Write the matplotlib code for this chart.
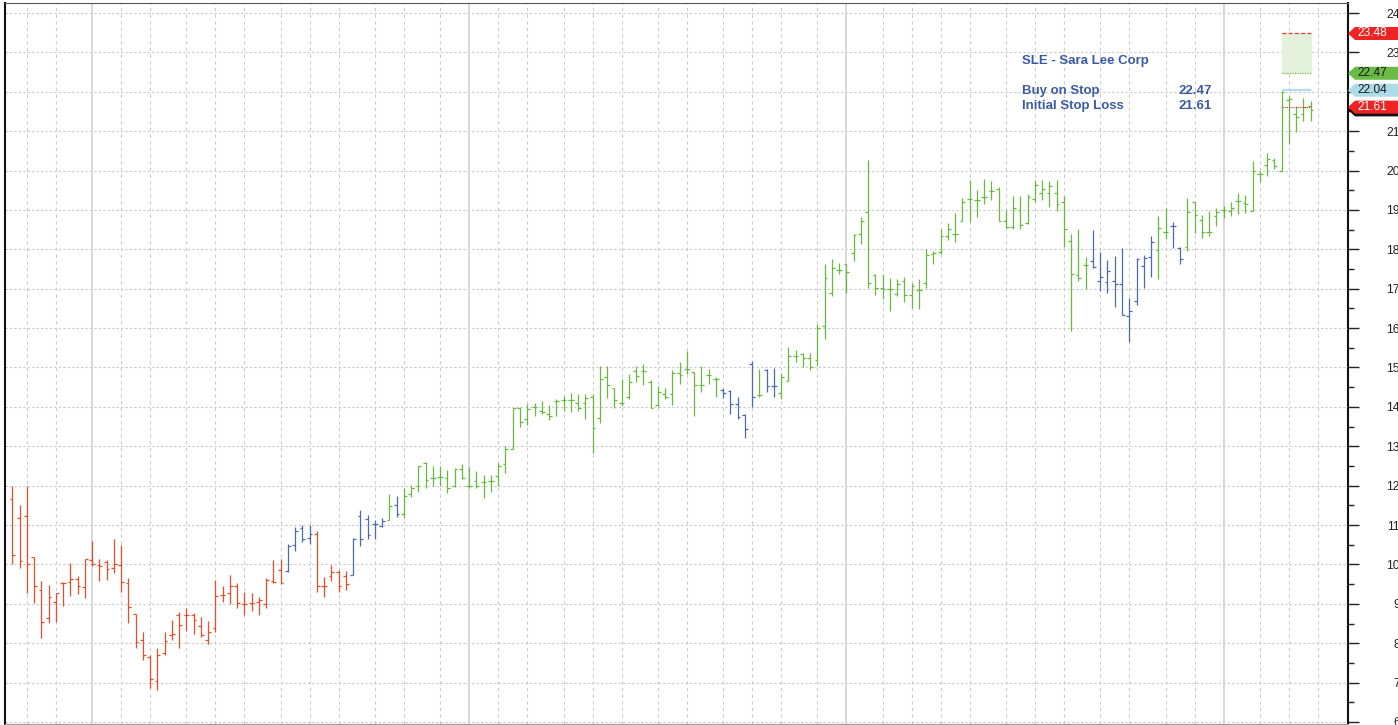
import numpy as np
import matplotlib
matplotlib.use("Agg")
import matplotlib.pyplot as plt
from matplotlib.patches import Polygon

plt.rcParams['font.family'] = ['Liberation Sans', 'DejaVu Sans']

# daily bars for SLE, oldest first (open, high, low, close)
opens = [11.65, 11.18, 11.23, 10.18, 9.36, 8.64, 9.05, 9.52, 9.56, 9.62,
         9.42, 10.10, 9.98, 10.05, 9.90, 9.99, 9.52, 8.74, 8.08, 7.66,
         7.03, 7.76, 8.22, 8.72, 8.72, 8.72, 8.44, 8.08, 8.39, 9.23,
         9.27, 9.44, 9.00, 9.02, 9.04, 9.00, 9.59, 9.86, 9.84, 10.49,
         10.93, 10.68, 10.78, 9.45, 9.71, 9.80, 9.70, 9.73, 11.23, 11.16,
         11.03, 10.97, 11.12, 11.50, 11.27, 11.80, 11.99, 12.58, 12.20, 12.22,
         12.20, 12.00, 12.43, 12.00, 12.12, 12.10, 12.12, 12.25, 12.54, 12.92,
         13.98, 13.69, 14.00, 13.90, 13.81, 14.14, 14.17, 14.17, 14.11, 14.11,
         14.25, 13.71, 14.76, 14.49, 14.11, 14.24, 14.90, 14.90, 14.62, 14.04,
         14.32, 14.32, 14.85, 14.97, 14.89, 14.56, 14.81, 14.72, 14.43, 14.41,
         14.07, 13.79, 15.10, 14.30, 14.94, 14.53, 14.36, 14.66, 15.28, 15.34,
         15.23, 15.19, 16.05, 16.88, 17.48, 17.62, 17.91, 18.40, 18.95, 17.35,
         17.03, 17.00, 16.86, 17.20, 16.83, 16.98, 17.14, 17.87, 17.93, 18.34,
         18.40, 18.72, 19.28, 19.26, 19.33, 19.48, 19.52, 18.72, 18.56, 19.00,
         18.66, 19.28, 19.43, 19.43, 19.43, 19.21, 18.20, 17.36, 17.60, 17.71,
         17.20, 17.18, 17.20, 17.12, 16.30, 16.69, 17.58, 17.81, 17.98, 18.45,
         18.58, 18.03, 18.05, 19.19, 18.75, 18.45, 18.85, 18.99, 18.97, 19.23,
         19.18, 18.98, 19.90, 20.13, 20.28, 19.98, 21.80, 21.43, 21.43, 21.64]
highs = [11.98, 11.50, 12.00, 10.18, 9.57, 9.47, 9.27, 9.55, 10.03, 9.70,
         10.15, 10.60, 10.15, 10.10, 10.65, 10.49, 9.66, 8.75, 8.29, 7.70,
         7.87, 8.29, 8.60, 8.79, 8.89, 8.77, 8.66, 8.56, 9.61, 9.44,
         9.74, 9.52, 9.31, 9.27, 9.17, 9.65, 10.12, 10.13, 10.53, 10.95,
         10.99, 10.99, 10.85, 9.67, 9.98, 9.85, 9.83, 10.68, 11.37, 11.26,
         11.14, 11.19, 11.80, 11.74, 11.93, 12.02, 12.50, 12.60, 12.50, 12.50,
         12.39, 12.46, 12.56, 12.47, 12.36, 12.27, 12.26, 12.58, 13.00, 13.98,
         14.00, 14.08, 14.11, 14.15, 14.04, 14.19, 14.28, 14.36, 14.32, 14.32,
         14.32, 15.04, 15.03, 14.49, 14.72, 14.83, 15.04, 15.08, 14.68, 14.53,
         14.47, 14.93, 15.14, 15.42, 14.89, 15.04, 14.96, 14.75, 14.49, 14.42,
         14.25, 13.83, 15.17, 14.96, 14.96, 14.98, 14.87, 15.53, 15.45, 15.38,
         15.38, 16.10, 17.64, 17.75, 17.66, 17.62, 18.40, 18.83, 20.26, 17.37,
         17.37, 17.28, 17.24, 17.31, 17.15, 17.24, 18.02, 17.97, 18.52, 18.66,
         18.91, 19.31, 19.75, 19.50, 19.79, 19.73, 19.59, 19.00, 19.35, 19.35,
         19.41, 19.76, 19.75, 19.73, 19.76, 19.36, 18.39, 18.52, 17.80, 18.50,
         17.92, 17.73, 17.82, 18.03, 16.76, 17.78, 17.86, 18.33, 18.84, 19.04,
         18.70, 18.05, 19.30, 19.21, 18.87, 18.98, 19.06, 19.10, 19.21, 19.44,
         19.39, 20.24, 20.00, 20.45, 20.32, 22.03, 21.90, 21.64, 21.83, 21.77]
lows = [10.00, 9.92, 9.27, 9.02, 8.12, 8.51, 8.55, 8.94, 9.19, 9.24,
        9.14, 9.97, 9.57, 9.60, 9.79, 9.29, 8.52, 7.87, 7.57, 6.86,
        6.82, 7.71, 8.07, 7.87, 8.30, 8.24, 8.16, 7.97, 8.29, 9.04,
        9.00, 8.89, 8.71, 8.83, 8.71, 8.89, 9.52, 9.50, 9.82, 10.34,
        10.57, 10.53, 9.29, 9.17, 9.57, 9.30, 9.35, 9.73, 10.47, 10.64,
        10.64, 10.95, 11.12, 11.20, 11.19, 11.71, 11.85, 11.95, 12.00, 12.00,
        11.82, 11.97, 12.16, 11.93, 11.93, 11.68, 11.85, 12.00, 12.31, 12.92,
        13.50, 13.54, 13.77, 13.81, 13.66, 13.77, 13.90, 13.86, 13.90, 13.70,
        12.84, 13.60, 14.22, 13.96, 14.03, 14.19, 14.64, 14.55, 13.96, 14.00,
        14.19, 14.04, 14.58, 14.83, 13.77, 14.38, 14.58, 14.25, 14.22, 13.83,
        13.69, 13.22, 14.00, 14.26, 14.38, 14.24, 14.19, 14.66, 15.13, 15.00,
        14.94, 15.04, 15.72, 16.82, 17.37, 16.90, 17.70, 18.14, 17.03, 16.84,
        16.73, 16.44, 16.82, 16.66, 16.52, 16.48, 17.03, 17.62, 17.87, 18.23,
        18.19, 18.72, 18.70, 18.83, 19.14, 19.24, 18.72, 18.55, 18.52, 18.52,
        18.64, 19.19, 19.25, 19.08, 18.97, 18.07, 15.92, 17.19, 17.00, 17.53,
        16.95, 16.88, 16.53, 16.34, 15.65, 16.59, 17.03, 17.31, 17.25, 18.25,
        18.03, 17.63, 17.97, 18.42, 18.28, 18.33, 18.60, 18.80, 18.85, 18.89,
        18.93, 18.98, 19.70, 19.87, 20.04, 19.98, 20.68, 20.98, 21.25, 21.25]
closes = [10.24, 10.08, 10.00, 9.46, 8.54, 9.18, 9.27, 9.52, 9.62, 9.44,
          10.13, 10.00, 9.97, 9.88, 10.00, 9.55, 8.92, 8.03, 7.71, 7.09,
          7.70, 8.05, 8.24, 8.47, 8.72, 8.60, 8.22, 8.29, 9.21, 9.23,
          9.46, 9.02, 9.00, 9.02, 9.10, 9.60, 9.56, 9.52, 10.47, 10.85,
          10.64, 10.78, 9.46, 9.44, 9.82, 9.45, 9.50, 10.65, 10.64, 10.74,
          11.03, 11.10, 11.48, 11.27, 11.74, 11.93, 12.50, 12.14, 12.20, 12.22,
          11.95, 12.43, 12.20, 12.00, 12.00, 12.10, 12.12, 12.50, 12.92, 13.97,
          13.62, 13.94, 14.00, 13.87, 13.77, 14.14, 14.17, 14.17, 13.96, 14.22,
          13.46, 14.70, 14.56, 14.18, 14.11, 14.64, 14.79, 14.90, 13.98, 14.39,
          14.24, 14.85, 14.81, 14.96, 14.56, 14.56, 14.81, 14.72, 14.36, 14.07,
          13.75, 13.43, 14.25, 14.30, 14.53, 14.53, 14.75, 15.28, 15.28, 15.25,
          15.00, 16.01, 17.26, 17.53, 17.48, 17.42, 18.36, 18.72, 17.15, 17.03,
          17.00, 17.00, 17.11, 16.83, 17.07, 16.98, 17.85, 17.91, 18.34, 18.52,
          18.40, 19.20, 19.28, 19.26, 19.33, 19.48, 18.72, 18.57, 19.05, 18.62,
          19.34, 19.64, 19.52, 19.62, 19.15, 18.52, 17.37, 17.27, 17.60, 17.56,
          17.29, 17.46, 17.12, 16.34, 16.44, 17.75, 17.78, 18.19, 18.53, 18.45,
          18.58, 17.75, 18.94, 18.86, 18.45, 18.45, 18.95, 18.99, 19.06, 19.23,
          19.14, 19.98, 19.90, 20.30, 20.11, 22.00, 21.81, 21.37, 21.62, 21.54]

# trend state of each bar: r = down, b = neutral, g = up
trend = ("r" * 38 + "b" * 4 + "r" * 5 + "b" * 5 + "g" + "b" + "g" * 44
         + "b" * 5 + "g" + "b" * 2 + "g" * 43 + "b" * 9 + "g" * 2 + "b" * 2
         + "g" * 18)

# vertical grid (bar positions)
week_lines = [2, 6, 15, 19, 24, 28, 32, 37, 41, 45, 50, 54, 59, 67, 71, 76,
              80, 84, 89, 93, 98, 102, 106, 111, 120, 124, 128, 132, 137, 141,
              145, 150, 154, 159, 163, 172, 176, 180]
month_lines = [11, 63, 115, 167]

# trade setup
ticker_name = "SLE - Sara Lee Corp"
buy_stop = 22.47
stop_loss = 21.61
target = 23.48
entry_ref = 22.04
setup_start, setup_end = 175, 179

W, H = 1398, 725
fig = plt.figure(figsize=(W / 100, H / 100), dpi=100)
ax = fig.add_axes([5 / W, 1 - 724 / H, 1343 / W, 721 / H])

n = len(closes)
x = np.arange(n)
cmap = {"r": "#ee4b28", "b": "#4e68b6", "g": "#66bb3e"}
cols = [cmap[t] for t in trend[:n]]

# grid
for yv in range(6, 25):
    ax.axhline(yv, color="#c8c8c8", lw=0.8, dashes=(2, 2), zorder=0)
for xv in week_lines:
    ax.axvline(xv, color="#cccccc", lw=0.8, dashes=(3, 3), zorder=0)
for xv in month_lines:
    ax.axvline(xv, color="#d6d6d6", lw=1.3, zorder=0)

# OHLC bars
tw = 0.38
ax.vlines(x, lows, highs, colors=cols, lw=0.9, zorder=3)
ax.hlines(opens, x - tw, x, colors=cols, lw=0.9, zorder=3)
ax.hlines(closes, x, x + tw, colors=cols, lw=0.9, zorder=3)

# setup box and levels
ax.fill_between([setup_start, setup_end], buy_stop, target, color="#e3f0da", zorder=1)
ax.hlines(target, setup_start, setup_end, colors="#e83030", lw=0.9, linestyles=(0, (3, 2)), zorder=2)
ax.hlines(buy_stop, setup_start, setup_end, colors="#7cc05a", lw=0.9, linestyles=(0, (1, 1)), zorder=2)
ax.hlines(entry_ref, setup_start, setup_end, colors="#b5dcea", lw=1.6, zorder=2)
ax.hlines(stop_loss, setup_start, setup_end, colors="#e02020", lw=0.8, linestyles=(0, (1, 1)), zorder=4)

ax.set_xlim(-1.006, 184.16)
ax.set_ylim(5.949, 24.254)

ax.yaxis.tick_right()
ax.set_yticks(range(6, 25))
ax.set_yticks(np.arange(6.5, 24.5, 1.0), minor=True)
ax.set_xticks([])
ax.tick_params(axis="y", which="major", length=8, width=1, color="#222222",
               pad=29.5, labelsize=8.8, labelcolor="#222222")
ax.tick_params(axis="y", which="minor", length=4, width=1, color="#222222")
for lab in ax.get_yticklabels():
    lab.set_horizontalalignment("right")

for side in ["left", "right"]:
    ax.spines[side].set_color("#111111")
    ax.spines[side].set_linewidth(1.5)
ax.spines["top"].set_color("#555555")
ax.spines["bottom"].set_color("#999999")

# price tags on the axis
to_fig = fig.transFigure.inverted()


def tag(price, bg, fg, z, show_text=True):
    yd = ax.transData.transform((0, price))[1]
    pts = [(1348, yd), (1355, yd - 6.5), (1400, yd - 6.5), (1400, yd + 6.5), (1355, yd + 6.5)]
    poly = Polygon(to_fig.transform(pts), closed=True, transform=fig.transFigure,
                   facecolor=bg, edgecolor="none", zorder=z)
    fig.patches.append(poly)
    if show_text:
        fig.text(1357 / W, to_fig.transform((0, yd))[1], "%.2f" % price, color=fg,
                 fontsize=8.6, va="center", ha="left", zorder=z + 0.5)


# last close tag sits under the stop-loss tag
tag(closes[-1], "#111111", "#ffffff", 5, show_text=False)
tag(target, "#ee2424", "#ffffff", 6)
tag(buy_stop, "#6abb45", "#1a1a1a", 7)
tag(entry_ref, "#aedbe8", "#1a1a1a", 8)
tag(stop_loss, "#ee2424", "#ffffff", 9)

# setup text
blue = "#3a5aa8"
fig.text(1022 / W, 1 - 61 / H, ticker_name, color=blue, fontsize=9.5,
         fontweight="bold", va="center", ha="left")
fig.text(1022 / W, 1 - 91 / H, "Buy on Stop", color=blue, fontsize=9.5,
         fontweight="bold", va="center", ha="left")
fig.text(1022 / W, 1 - 106 / H, "Initial Stop Loss", color=blue, fontsize=9.5,
         fontweight="bold", va="center", ha="left")
fig.text(1212 / W, 1 - 91 / H, "%.2f" % buy_stop, color=blue, fontsize=9.5,
         fontweight="bold", va="center", ha="right")
fig.text(1212 / W, 1 - 106 / H, "%.2f" % stop_loss, color=blue, fontsize=9.5,
         fontweight="bold", va="center", ha="right")

fig.savefig("out.png", dpi=100)
